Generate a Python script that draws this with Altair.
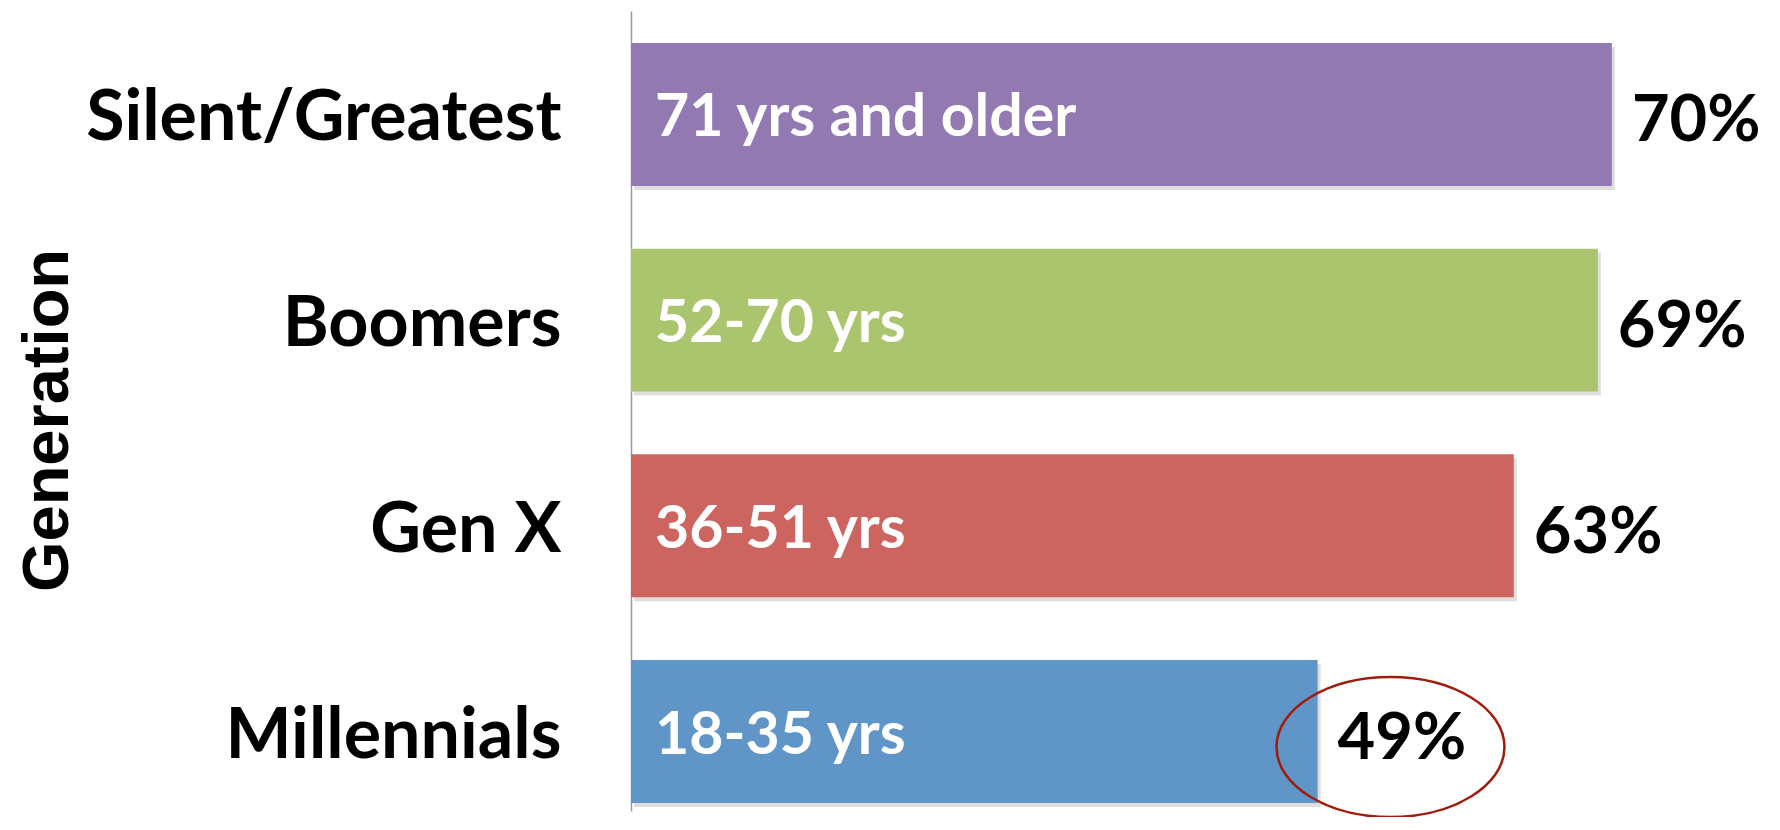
import altair as alt
import pandas as pd

generations = ["Silent/Greatest", "Boomers", "Gen X", "Millennials"]
age_ranges = ["71 yrs and older", "52-70 yrs", "36-51 yrs", "18-35 yrs"]
shares = [70, 69, 63, 49]
bar_colors = ["#9279B1", "#ABC56E", "#CC6560", "#6095C7"]

circled_generation = ["Millennials"]
circle_x = [54.2]

df = pd.DataFrame({
    "generation": generations,
    "age": age_ranges,
    "share": shares,
    "label": [f"{v}%" for v in shares],
    "color": bar_colors,
})
circle_df = pd.DataFrame({"generation": circled_generation, "cx": circle_x})

y_enc = alt.Y(
    "generation:N",
    sort=generations,
    scale=alt.Scale(paddingInner=0.305, paddingOuter=0.097, align=0.8),
    axis=alt.Axis(
        title="Generation",
        titleFont="Liberation Sans",
        titleFontSize=65,
        titleFontWeight="bold",
        titleColor="#000000",
        titleAngle=270,
        titleAlign="center",
        titleBaseline="alphabetic",
        titleX=-564,
        titleY=409,
        labelFont="Lato",
        labelFontSize=70,
        labelFontWeight="bold",
        labelColor="#000000",
        labelPadding=70,
        labelLimit=800,
        labelAlign="right",
        labelBaseline="middle",
        labelOffset=5,
        ticks=False,
        tickSize=0,
        grid=False,
        domainColor="#9a9a9a",
        domainWidth=1.5,
    ),
)
x_scale = alt.Scale(domain=[0, 80])

base = alt.Chart(df)

shadow = base.mark_bar(color="#000000", opacity=0.13, xOffset=3, x2Offset=3, yOffset=4, y2Offset=4).encode(
    x=alt.X("share:Q", scale=x_scale, axis=None),
    y=y_enc,
)

bars = base.mark_bar().encode(
    x=alt.X("share:Q", scale=x_scale, axis=None),
    y=y_enc,
    color=alt.Color("color:N", scale=None),
)

inner = base.mark_text(
    align="left", baseline="middle", dx=24, dy=4, font="Lato", fontSize=59,
    fontWeight="bold", color="#ffffff",
).encode(
    x=alt.value(0),
    y=alt.Y("generation:N", sort=generations),
    text="age:N",
)

pct = base.mark_text(
    align="left", baseline="middle", dx=20, dy=7, font="Lato", fontSize=65,
    fontWeight="bold", color="#000000",
).encode(
    x=alt.X("share:Q", scale=x_scale),
    y=alt.Y("generation:N", sort=generations),
    text="label:N",
)

ellipse_path = "M -1 0 A 1 0.614 0 1 1 1 0 A 1 0.614 0 1 1 -1 0 Z"
circle = alt.Chart(circle_df).mark_point(
    shape=ellipse_path, size=51984, filled=False, stroke="#A01C0C",
    strokeWidth=2.5, opacity=1, yOffset=15.5,
).encode(
    x=alt.X("cx:Q", scale=x_scale),
    y=alt.Y("generation:N", sort=generations),
)

chart = alt.layer(shadow, bars, inner, pct, circle).properties(
    width=1121,
    height=800,
    padding={"left": 623, "top": 3, "right": 20, "bottom": 6},
    autosize=alt.AutoSizeParams(type="none"),
).configure_view(stroke=None)

chart.save("out.html", embed_options={"renderer": "svg", "actions": False})
